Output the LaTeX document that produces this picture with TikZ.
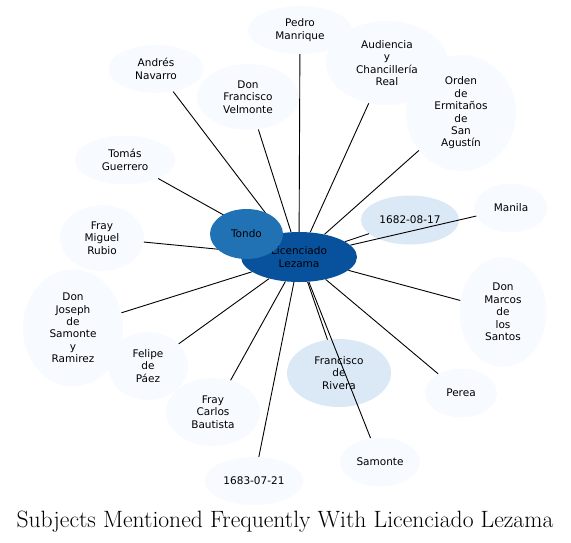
\documentclass[tikz,border=0pt]{standalone}
\usepackage{fontspec}
\usepackage{tikz}
\usetikzlibrary{shapes.geometric}
\newfontfamily\dejavu{DejaVu Sans}
\definecolor{palblue}{HTML}{F7FBFF}
\definecolor{midblue}{HTML}{DBE9F6}
\definecolor{tondoblue}{HTML}{2171B5}
\definecolor{hubblue}{HTML}{08519C}
\pgfdeclarelayer{front}
\pgfsetlayers{main,front}
\tikzset{
  sn/.style={ellipse, inner sep=0pt, align=center, text=black,
             font=\dejavu\fontsize{10.5}{12.4}\selectfont},
  sn pale/.style={sn, fill=palblue},
  sn mid/.style={sn, fill=midblue},
  sn tondo/.style={sn, fill=tondoblue},
  sn hub/.style={sn, fill=hubblue},
  sl/.style={black, line width=0.9pt},
}

\begin{document}
\begin{tikzpicture}[x=1pt, y=-1pt]
  \useasboundingbox (0,0) rectangle (571,542);
  % top half of the ring
  \node[sn pale, minimum width=104, minimum height=48] (pm) at (300,30) {Pedro\\Manrique};
  \node[sn pale, minimum width=95, minimum height=48] (an) at (156,69) {Andrés\\Navarro};
  \node[sn pale, minimum width=102, minimum height=66] (fv) at (248,97) {Don\\Francisco\\Velmonte};
  \node[sn pale, minimum width=122, minimum height=84] (ac) at (387,63) {Audiencia\\y\\Chancillería\\Real};
  \node[sn pale, minimum width=110, minimum height=116] (oe) at (461,113) {Orden\\de\\Ermitaños\\de\\San\\Agustín};
  \node[sn pale, minimum width=100, minimum height=49] (tg) at (125,160) {Tomás\\Guerrero};
  \node[sn pale, minimum width=73, minimum height=49] (mn) at (511,208) {Manila};
  \node[sn mid, minimum width=98, minimum height=49] (da) at (410,220) {1682-08-17};
  \node[sn pale, minimum width=84, minimum height=66] (mr) at (102,238) {Fray\\Miguel\\Rubio};
  % bottom half of the ring
  \node[sn pale, minimum width=100, minimum height=117] (js) at (73,328) {Don\\Joseph\\de\\Samonte\\y\\Ramirez};
  \node[sn pale, minimum width=87, minimum height=110] (ms) at (503,312) {Don\\Marcos\\de\\los\\Santos};
  \node[sn pale, minimum width=80, minimum height=68] (fp) at (148,366) {Felipe\\de\\Páez};
  \node[sn mid, minimum width=104, minimum height=68] (fr) at (339,373) {Francisco\\de\\Rivera};
  \node[sn pale, minimum width=72, minimum height=49] (pe) at (461,393) {Perea};
  \node[sn pale, minimum width=94, minimum height=68] (cb) at (213,412) {Fray\\Carlos\\Bautista};
  \node[sn pale, minimum width=80, minimum height=49] (sa) at (380,462) {Samonte};
  \node[sn pale, minimum width=99, minimum height=48] (db) at (254,481) {1683-07-21};
  % hub and its close neighbour sit above the spokes
  \begin{pgfonlayer}{front}
    \node[sn hub, minimum width=116, minimum height=50] (lz) at (299,257) {Licenciado\\Lezama};
    \node[sn tondo, minimum width=73, minimum height=50] (to) at (246.5,234) {Tondo};
  \end{pgfonlayer}
  \foreach \a in {pm,an,fv,ac,oe,tg,mn,da,mr,js,ms,fp,fr,pe,cb,sa,db}
    \draw[sl] (lz) -- (\a);
  \node[font=\fontsize{23.6}{28}\selectfont, anchor=base] (ttl) at (285,527)
    {Subjects Mentioned Frequently With Licenciado Lezama};
\end{tikzpicture}
\end{document}
